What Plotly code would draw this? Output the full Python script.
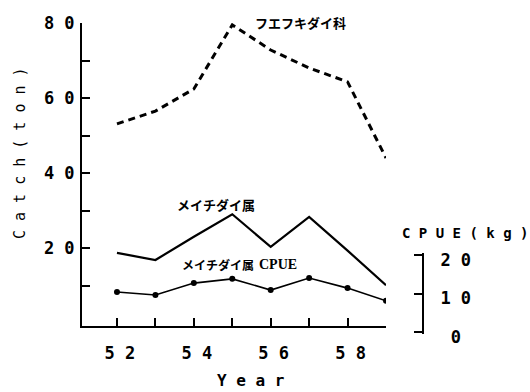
import plotly.graph_objects as go

# Fishing years (Showa era) and catches
years = [52, 53, 54, 55, 56, 57, 58, 59]
fuefukidai_catch = [53.1, 56.5, 62.4, 79.5, 72.8, 68.0, 64.3, 44.0]   # フエフキダイ科 (ton)
meichidai_catch = [18.7, 16.8, 23.0, 29.0, 20.3, 28.3, 19.3, 10.1]    # メイチダイ属 (ton)
meichidai_cpue = [10.4, 9.6, 12.7, 13.8, 10.9, 14.0, 11.4, 8.1]       # メイチダイ属 CPUE (kg)

x_tickvals = years
x_ticktext = ["5 2", "", "5 4", "", "5 6", "", "5 8", ""]
y_tickvals = [10, 20, 30, 40, 50, 60, 70, 80]
y_ticktext = ["", "2 0", "", "4 0", "", "6 0", "", "8 0"]
cpue_tickvals = [0, 10, 20]
cpue_ticktext = ["\u00a00", "1 0", "2 0"]

W, H = 530, 392
mono = "DejaVu Sans Mono"
jp = "Noto Sans CJK JP"

fig = go.Figure()

fig.add_trace(go.Scatter(
    x=years, y=fuefukidai_catch, mode="lines",
    line=dict(color="black", width=3, dash="7px,5px"),
    xaxis="x", yaxis="y", showlegend=False,
))
fig.add_trace(go.Scatter(
    x=years, y=meichidai_catch, mode="lines",
    line=dict(color="black", width=2.2),
    xaxis="x", yaxis="y", showlegend=False,
))
fig.add_trace(go.Scatter(
    x=years, y=meichidai_cpue, mode="lines+markers",
    line=dict(color="black", width=1.6),
    marker=dict(color="black", size=6),
    xaxis="x", yaxis="y2", showlegend=False,
))

tick_font = dict(family=mono, size=17, color="black", weight="bold")

# CPUE scale: 0 at 332 px, 20 at 255 px from the top
cpue_px = (332 - 255) / 20.0
cpue_pad = 0.6

fig.update_layout(
    width=W, height=H,
    margin=dict(l=0, r=0, t=0, b=0, autoexpand=False),
    paper_bgcolor="white", plot_bgcolor="rgba(0,0,0,0)",
    xaxis=dict(
        domain=[82 / W, 386 / W], range=[51.09, 59],
        showline=True, linecolor="black", linewidth=2,
        showgrid=False, zeroline=False, automargin=False,
        tickmode="array", tickvals=x_tickvals, ticktext=x_ticktext,
        ticks="inside", ticklen=8, tickwidth=2, tickcolor="black",
        tickfont=tick_font, ticklabelstandoff=11, ticklabelshift=3,
        anchor="y",
    ),
    yaxis=dict(
        domain=[(H - 326) / H, (H - 23) / H], range=[-0.8, 80],
        showline=True, linecolor="black", linewidth=2,
        showgrid=False, zeroline=False, automargin=False,
        tickmode="array", tickvals=y_tickvals, ticktext=y_ticktext,
        ticks="inside", ticklen=8, tickwidth=1.5, tickcolor="black",
        tickfont=tick_font, ticklabelstandoff=2,
        anchor="x",
    ),
    yaxis2=dict(
        domain=[(H - 332 - cpue_pad * cpue_px) / H, (H - 255 + cpue_pad * cpue_px) / H],
        range=[-cpue_pad, 20 + cpue_pad],
        anchor="free", position=423 / W, side="right",
        showline=True, linecolor="black", linewidth=2,
        showgrid=False, zeroline=False, automargin=False,
        tickmode="array", tickvals=cpue_tickvals, ticktext=cpue_ticktext,
        ticks="inside", ticklen=8, tickwidth=2, tickcolor="black",
        tickfont=tick_font, ticklabelstandoff=13, ticklabelshift=5,
    ),
)

# Axis titles
fig.add_annotation(text="C a t c h ( t o n )", xref="paper", yref="paper",
                   x=20 / W, y=(H - 153) / H, xanchor="center", yanchor="middle",
                   showarrow=False, textangle=-90,
                   font=dict(family=mono, size=15, color="black"))
fig.add_annotation(text="Y e a r", xref="paper", yref="paper",
                   x=250 / W, y=(H - 380) / H, xanchor="center", yanchor="middle",
                   showarrow=False,
                   font=dict(family=mono, size=16, color="black", weight="bold"))
fig.add_annotation(text="C P U E ( k g )", xref="paper", yref="paper",
                   x=465 / W, y=(H - 233) / H, xanchor="center", yanchor="middle",
                   showarrow=False,
                   font=dict(family=mono, size=14, color="black", weight="bold"))

# Series labels
fig.add_annotation(text="フエフキダイ科", x=55.54, y=80, xref="x", yref="y",
                   xanchor="left", yanchor="middle", showarrow=False,
                   font=dict(family=jp, size=13, color="black", weight="bold"))
fig.add_annotation(text="メイチダイ属", x=53.51, y=31.5, xref="x", yref="y",
                   xanchor="left", yanchor="middle", showarrow=False,
                   font=dict(family=jp, size=13, color="black", weight="bold"))
fig.add_annotation(text="メイチダイ属", x=53.64, y=15.5, xref="x", yref="y",
                   xanchor="left", yanchor="middle", showarrow=False,
                   font=dict(family=jp, size=12, color="black", weight="bold"))
fig.add_annotation(text="CPUE", x=55.65, y=15.5, xref="x", yref="y",
                   xanchor="left", yanchor="middle", showarrow=False,
                   font=dict(family="Liberation Serif", size=14, color="black", weight="bold"))

fig.write_html("out.html")
